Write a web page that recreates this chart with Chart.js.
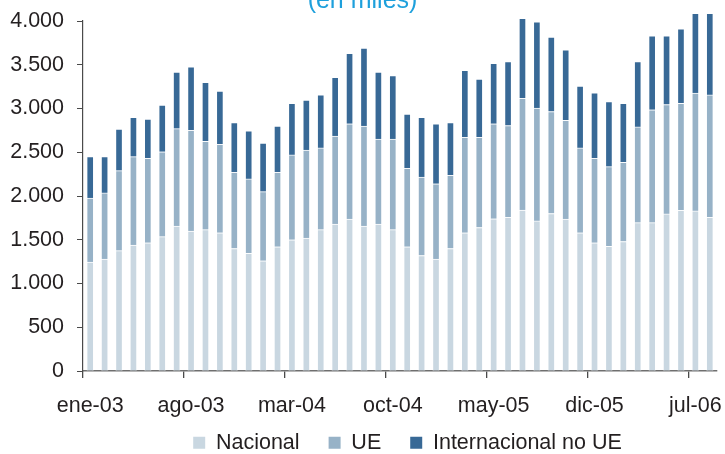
<!DOCTYPE html>
<html><head><meta charset="utf-8">
<style>
html,body{margin:0;padding:0;background:#fff;}
#wrap{position:relative;width:725px;height:454px;overflow:hidden;}
#title{position:absolute;left:0;width:725px;top:-13px;text-align:center;font-family:'Liberation Sans',Arial,sans-serif;font-size:25px;line-height:24px;color:#1ea0dc;}
canvas{position:absolute;left:0;top:0;}
</style>
<script src="https://cdn.jsdelivr.net/npm/chart.js@4/dist/chart.umd.min.js"></script>
</head><body>
<div id="wrap"><canvas id="c" width="725" height="454"></canvas><div id="title">(en miles)</div></div>
<script>
const months = [
 'ene-03','feb-03','mar-03','abr-03','may-03','jun-03','jul-03','ago-03','sep-03','oct-03','nov-03','dic-03',
 'ene-04','feb-04','mar-04','abr-04','may-04','jun-04','jul-04','ago-04','sep-04','oct-04','nov-04','dic-04',
 'ene-05','feb-05','mar-05','abr-05','may-05','jun-05','jul-05','ago-05','sep-05','oct-05','nov-05','dic-05',
 'ene-06','feb-06','mar-06','abr-06','may-06','jun-06','jul-06','ago-06'];
const nacional = [1245,1280,1375,1440,1465,1535,1655,1600,1615,1580,1400,1345,
 1260,1420,1500,1520,1615,1680,1735,1655,1680,1615,1420,1320,
 1280,1400,1580,1640,1740,1755,1840,1715,1800,1735,1580,1465,
 1425,1480,1695,1695,1795,1835,1830,1755];
const ue = [730,755,915,1010,965,970,1115,1150,1010,1010,870,850,
 790,850,970,1005,935,1005,1090,1145,970,1035,895,895,
 860,835,1090,1030,1085,1050,1275,1290,1165,1130,970,965,
 910,905,1095,1290,1250,1225,1345,1400];
const internacional = [475,415,475,450,450,535,645,725,675,610,570,550,
 555,530,590,570,605,670,805,890,765,725,620,685,
 685,605,765,665,690,730,915,985,850,805,705,750,
 745,675,745,845,785,850,925,945];
const seriesNames = ['Nacional','UE','Internacional no UE'];
const seriesColors = ['#c9d7e1','#97b2c7','#386996'];
const yTickValues = [0,500,1000,1500,2000,2500,3000,3500,4000];
const labelStep = 7;

const FONT = "'Liberation Sans', Arial, sans-serif";
const FS = 21.5;
const TXT = '#231f20';
const AX = '#4a4a4a';

function fmt(v){ return String(v).replace(/\B(?=(\d{3})+(?!\d))/g,'.'); }

const values = [nacional, ue, internacional];
const datasets = values.map((arr,i)=>({
  label: seriesNames[i],
  data: arr,
  backgroundColor: seriesColors[i],
  borderColor: 'rgba(255,255,255,0.85)',
  borderWidth: {top:1,left:1,right:1,bottom:0},
  borderSkipped: false,
  barThickness: 7,
  clip: {left:false, right:false, bottom:false, top:7}
}));

const legendFix = {
  id: 'legendFix',
  beforeLayout(chart) {
    const lg = chart.legend;
    if (lg && !lg._fixed) {
      const f = lg.fit;
      lg.fit = function(){ f.call(this); this.height = 53; };
      lg._fixed = true;
    }
  },
  afterLayout(chart) {
    const lg = chart.legend;
    if (lg) { lg.left += 49; lg.right += 49; lg.top += 2; lg.bottom += 2; }
  }
};

const chart = new Chart(document.getElementById('c'), {
  type: 'bar',
  data: { labels: months, datasets },
  plugins: [legendFix],
  options: {
    responsive: false,
    animation: false,
    devicePixelRatio: 1,
    layout: { padding: { top: 21, right: 8, left: 0, bottom: 0 } },
    plugins: {
      tooltip: { enabled: false },
      title: { display: false },
      legend: {
        position: 'bottom',
        labels: {
          boxWidth: 12, boxHeight: 12,
          padding: 29,
          color: TXT,
          font: { family: FONT, size: FS },
          generateLabels: (ch) => ch.data.datasets.map((d,i)=>({
            text: d.label, fillStyle: d.backgroundColor, strokeStyle: d.backgroundColor,
            lineWidth: 0, hidden: false, datasetIndex: i, fontColor: TXT
          }))
        }
      }
    },
    scales: {
      x: {
        stacked: true,
        offset: true,
        grid: {
          offset: true,
          drawOnChartArea: false,
          drawTicks: true,
          tickLength: 7,
          color: (ctx) => (ctx.index !== undefined && ctx.index % labelStep === 0) ? AX : 'rgba(0,0,0,0)',
          lineWidth: 1.3
        },
        border: { color: '#6f6f6f', width: 1.5 },
        ticks: {
          autoSkip: false, maxRotation: 0, minRotation: 0,
          padding: 15,
          color: TXT,
          font: { family: FONT, size: FS },
          callback: (v, i) => (i % labelStep === 0) ? months[i] : ''
        },
        afterFit: (s) => { s.height = 30; s._computeLabelArea = function(){ return undefined; }; }
      },
      y: {
        stacked: true,
        min: 0, max: 4000,
        afterBuildTicks: (s) => { s.ticks = yTickValues.map(v=>({value:v})); },
        grid: { drawOnChartArea: false, drawTicks: true, tickLength: 6, color: AX, lineWidth: 1 },
        border: { color: AX, width: 1.2 },
        ticks: {
          padding: 13,
          color: TXT,
          font: { family: FONT, size: FS },
          callback: (v) => fmt(v)
        },
        afterFit: (s) => { s.width = 83; s.paddingTop = 0; s.paddingBottom = 0; }
      }
    }
  }
});
</script>
</body></html>
